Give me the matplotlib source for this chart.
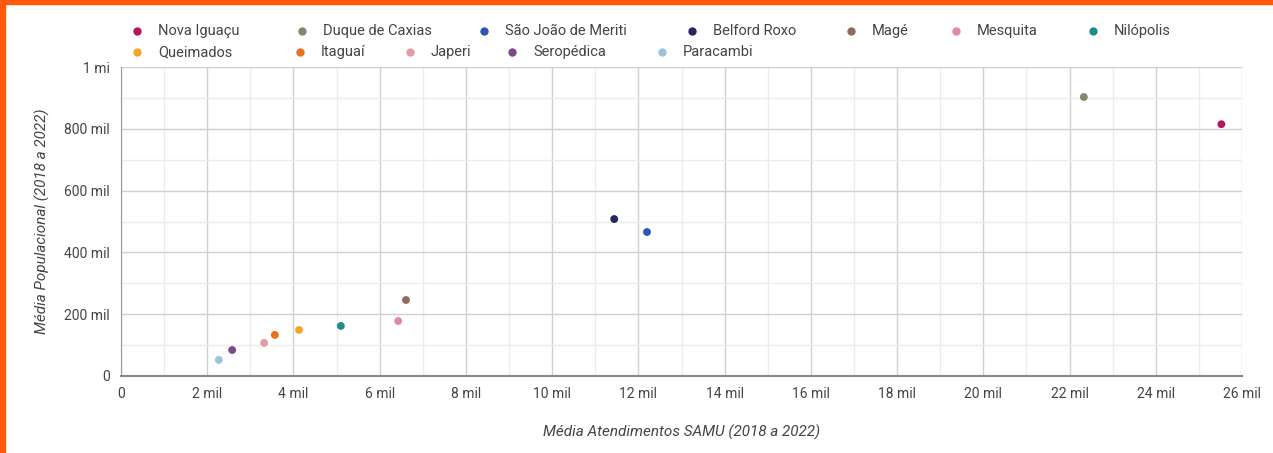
import matplotlib.pyplot as plt
from matplotlib.patches import Rectangle
from matplotlib.ticker import FuncFormatter, MultipleLocator

plt.rcParams['font.family'] = ['Roboto', 'DejaVu Sans']

cities = ['Nova Iguaçu', 'Duque de Caxias', 'São João de Meriti', 'Belford Roxo',
          'Magé', 'Mesquita', 'Nilópolis', 'Queimados', 'Itaguaí', 'Japeri',
          'Seropédica', 'Paracambi']
atendimentos = [25520, 22330, 12200, 11440, 6610, 6430, 5100, 4130, 3570, 3320, 2580, 2270]
populacao = [815000, 903000, 466000, 508000, 246000, 178000, 162000, 149000, 133000,
             107000, 84000, 52000]
colors = ['#b0175e', '#7d8a6c', '#2f55b0', '#262566', '#8f6a60', '#e08aa0', '#1f8c8e',
          '#f2a72a', '#e8701e', '#e59aa8', '#7a4a8c', '#9dc3dc']

fig = plt.figure(figsize=(12.73, 4.53), dpi=100)
ax = fig.add_axes([0.095, 0.170, 0.8807, 0.682])

for c, x, y, col in zip(cities, atendimentos, populacao, colors):
    ax.scatter(x, y, s=32, color=col, edgecolors='none', zorder=3)

ax.set_xlim(0, 26000)
ax.set_ylim(0, 1000000)
ax.xaxis.set_major_locator(MultipleLocator(2000))
ax.xaxis.set_minor_locator(MultipleLocator(1000))
ax.yaxis.set_major_locator(MultipleLocator(200000))
ax.yaxis.set_minor_locator(MultipleLocator(100000))


def fmt_x(v, pos):
    return '0' if v == 0 else f'{int(v / 1000)} mil'


def fmt_y(v, pos):
    if v == 0:
        return '0'
    if v >= 1000000:
        return '1 mi'
    return f'{int(v / 1000)} mil'


ax.xaxis.set_major_formatter(FuncFormatter(fmt_x))
ax.yaxis.set_major_formatter(FuncFormatter(fmt_y))
ax.grid(which='major', color='#d0d0d0', linewidth=1)
ax.grid(which='minor', color='#ececec', linewidth=1)
ax.set_axisbelow(True)
for s in ['top', 'right']:
    ax.spines[s].set_visible(False)
ax.spines['bottom'].set_color('#888888')
ax.spines['bottom'].set_linewidth(1.5)
ax.spines['left'].set_color('#999999')
ax.spines['left'].set_linewidth(0.8)
ax.tick_params(which='both', length=0, labelsize=10, colors='#444444', pad=8)

ax.set_xlabel('Média Atendimentos SAMU (2018 a 2022)', fontsize=11, style='italic',
              color='#444444', labelpad=17)
ax.set_ylabel('Média Populacional (2018 a 2022)', fontsize=11, style='italic',
              color='#444444', labelpad=10)

# legend, two rows, marker positions in pixels
rows = [cities[:7], cities[7:]]
row_y = [31, 52]
row_x = [[137, 302, 484, 692, 851, 956, 1093], [137, 300, 410, 512, 662]]
W, H = fig.bbox.width, fig.bbox.height
idx = 0
for r, names in enumerate(rows):
    yf = 1 - row_y[r] / H
    for name, xpix in zip(names, row_x[r]):
        col = colors[idx]
        idx += 1
        fig.add_artist(plt.Line2D([xpix / W], [yf], marker='o', markersize=5,
                                  color=col, linestyle='none', transform=fig.transFigure))
        fig.text((xpix + 21) / W, yf, name, fontsize=10.5, color='#444444',
                 va='center', ha='left')

# orange frame
fig.patches.append(Rectangle((0, 0), 5 / W, 1, transform=fig.transFigure,
                             color='#ff5a0a', zorder=10))
fig.patches.append(Rectangle((0, 1 - 4 / H), 1, 4 / H, transform=fig.transFigure,
                             color='#ff5a0a', zorder=10))

fig.savefig('out.png', dpi=100)
